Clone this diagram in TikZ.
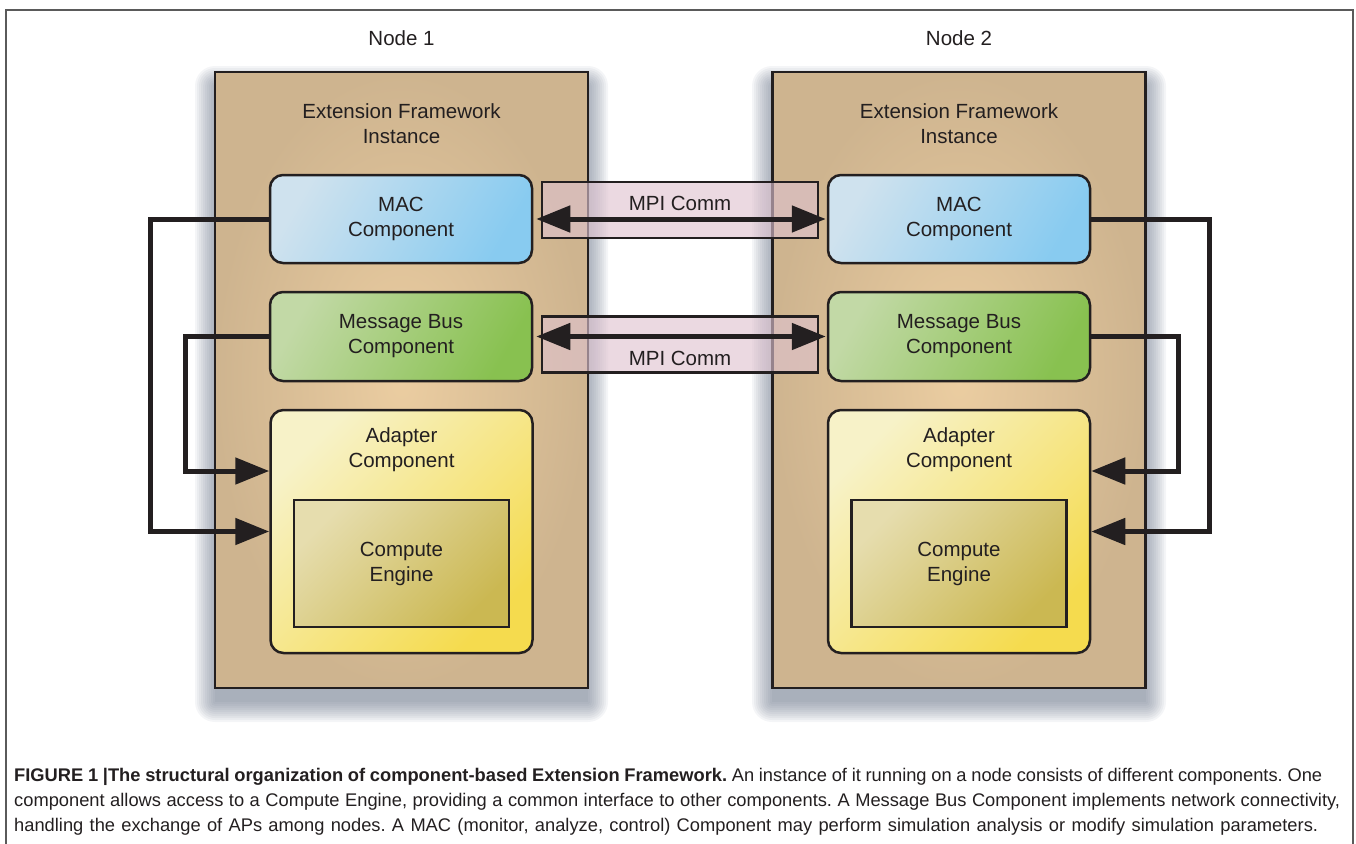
\documentclass[tikz,border=0pt]{standalone}
\usepackage{fontspec}
\setmainfont{Liberation Sans}
\usetikzlibrary{arrows.meta}

\definecolor{ink}{HTML}{231F20}
\definecolor{framec}{HTML}{5A5A5A}
\definecolor{tanin}{HTML}{EBCDA1}
\definecolor{tanout}{HTML}{CEB48F}
\definecolor{macA}{HTML}{CFE2EE}
\definecolor{macB}{HTML}{88CBF0}
\definecolor{busA}{HTML}{C2D9A6}
\definecolor{busB}{HTML}{88C150}
\definecolor{adpA}{HTML}{F7F2C8}
\definecolor{adpB}{HTML}{F5DB4E}
\definecolor{engA}{HTML}{E6DDAE}
\definecolor{engB}{HTML}{CBB852}
\definecolor{mpifill}{HTML}{DEC2CF}
\definecolor{shadowc}{HTML}{5E6A80}

\tikzset{
  lbl/.style={font=\fontsize{20.5}{25}\selectfont, text=ink, align=center, inner sep=0pt},
  hostbox/.style={draw=ink, line width=2.5pt, inner color=tanin, outer color=tanout,
    minimum width=373pt, minimum height=616pt, inner sep=0pt},
  comp/.style={draw=ink, line width=2.5pt, rounded corners=13pt, minimum width=262pt,
    inner sep=0pt, font=\fontsize{20.5}{25}\selectfont, text=ink, align=center},
  macbox/.style={comp, minimum height=88pt, top color=macA, bottom color=macB, shading angle=60},
  busbox/.style={comp, minimum height=89pt, top color=busA, bottom color=busB, shading angle=60},
  adpbox/.style={comp, minimum height=243pt, top color=adpA, bottom color=adpB, shading angle=45},
  engbox/.style={draw=ink, line width=2.5pt, minimum width=215pt, minimum height=127pt,
    inner sep=0pt, top color=engA, bottom color=engB, shading angle=45,
    font=\fontsize{20.5}{25}\selectfont, text=ink, align=center},
  mpibox/.style={draw=ink, line width=2.2pt, fill=mpifill, fill opacity=0.62,
    minimum width=276pt, minimum height=56pt, inner sep=0pt},
  conn/.style={draw=ink, line width=5pt},
  tip/.style={-{Triangle[length=34pt,width=26pt]}},
  dtip/.style={{Triangle[length=34pt,width=26pt]}-{Triangle[length=34pt,width=26pt]}},
  captext/.style={font=\fontsize{18.3}{25}\selectfont\frenchspacing, text=ink, anchor=base west, inner sep=0pt},
}

\begin{document}
\begin{tikzpicture}[x=1pt,y=-1pt]
\useasboundingbox (0,0) rectangle (1356,843);

% figure frame, open at the bottom
\draw[framec, line width=1.4pt] (6,850) -- (6,10) -- (1353,10) -- (1353,850);

% soft shadows under the two host boxes
\foreach \e in {20,18,...,0} {
  \fill[shadowc, opacity=0.065, rounded corners=\e pt]
    (215-\e,86-\e) rectangle (588+\e,702+\e);
  \fill[shadowc, opacity=0.065, rounded corners=\e pt]
    (772-\e,86-\e) rectangle (1146+\e,702+\e);
}

% host boxes
\node[hostbox] (host1) at (401.5,380) {};
\node[hostbox] (host2) at (959,380) {};

\node[lbl] (title1) at (401.5,38) {Node 1};
\node[lbl] (title2) at (959,38) {Node 2};
\node[lbl] (efi1) at (401.5,123.5) {Extension Framework\\Instance};
\node[lbl] (efi2) at (959,123.5) {Extension Framework\\Instance};

% MPI channels between the hosts
\node[mpibox] (mpi1) at (680,210) {};
\node[mpibox] (mpi2) at (680,344.5) {};
\node[lbl] (mpil1) at (680,203) {MPI Comm};
\node[lbl] (mpil2) at (680,358) {MPI Comm};

% components of node 1
\node[macbox] (mac1) at (401,219) {MAC\\Component};
\node[busbox] (bus1) at (401,336.5) {Message Bus\\Component};
\node[adpbox] (adp1) at (401.5,531.5) {};
\node[lbl] (adpl1) at (401.5,449.5) {Adapter\\Component};
\node[engbox] (eng1) at (401.5,563.5) {Compute\\Engine};

% components of node 2
\node[macbox] (mac2) at (959,219) {MAC\\Component};
\node[busbox] (bus2) at (959,336.5) {Message Bus\\Component};
\node[adpbox] (adp2) at (959,531.5) {};
\node[lbl] (adpl2) at (959,449.5) {Adapter\\Component};
\node[engbox] (eng2) at (959,563.5) {Compute\\Engine};

% inter-node links
\draw[conn, dtip, shorten <=3pt, shorten >=1pt] (mac1.east) -- (mac2.west);
\draw[conn, dtip, shorten <=3pt, shorten >=1pt] (bus1.east) -- (bus2.west);

% local links into the adapters
\draw[conn, tip] (mac1.west) -- ++(-118,0) |- (adp1.west);
\draw[conn, tip] (bus1.west) -- ++(-83,0) |- ([yshift=60.5pt]adp1.west);
\draw[conn, tip] (mac2.east) -- ++(118,0) |- (adp2.east);
\draw[conn, tip] (bus2.east) -- ++(87,0) |- ([yshift=60.5pt]adp2.east);

% caption, each line spread to its set width
\node[captext] (cap1) at (14,781) {\makebox[1308pt][s]{\textbf{FIGURE 1 |The structural organization of component-based Extension Framework.} An instance of it running on a node consists of different components. One}};
\node[captext] (cap2) at (14,806) {\makebox[1326pt][s]{component allows access to a Compute Engine, providing a common interface to other components. A Message Bus Component implements network connectivity,}};
\node[captext] (cap3) at (14,831) {\makebox[1304pt][s]{handling the exchange of APs among nodes. A MAC (monitor, analyze, control) Component may perform simulation analysis or modify simulation parameters.}};
\end{tikzpicture}
\end{document}
